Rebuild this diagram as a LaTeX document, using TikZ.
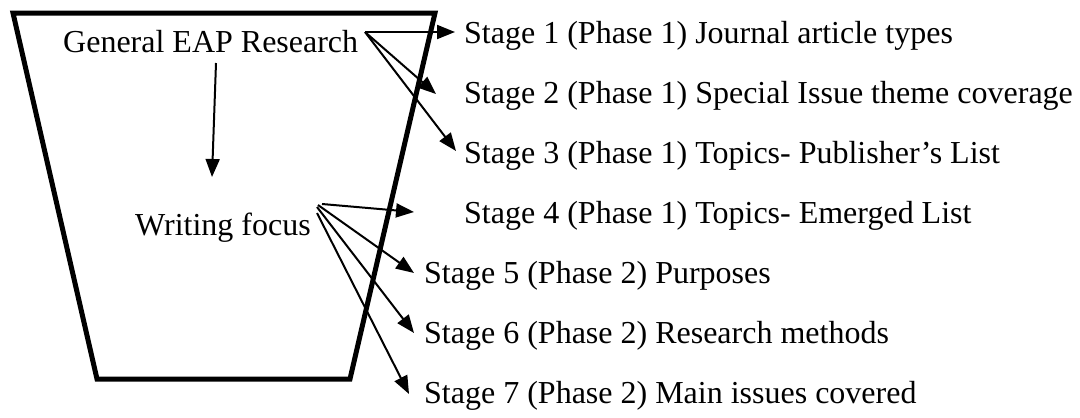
\documentclass[tikz,border=0pt]{standalone}
\usepackage{fontspec}
\setmainfont{Liberation Serif}
\usetikzlibrary{arrows.meta}
\begin{document}
\begin{tikzpicture}[x=1pt,y=-1pt,
  lbl/.style={anchor=base west,inner sep=0pt,font=\fontsize{32}{36}\selectfont},
  frame/.style={line width=5pt,line join=miter},
  arr/.style={line width=2pt,-{Triangle[length=18pt,width=14pt]}}]
\useasboundingbox (0,0) rectangle (1080,418);
\draw[frame] (13,13) -- (435,13) -- (350,379) -- (97,379) -- cycle;
\node[lbl] (gen) at (63,52) {General EAP Research};
\node[lbl] (wri) at (135,235) {Writing focus};
\node[lbl] (s1) at (464,43) {Stage 1 (Phase 1) Journal article types};
\node[lbl] (s2) at (464,103) {Stage 2 (Phase 1) Special Issue theme coverage};
\node[lbl] (s3) at (464,163) {Stage 3 (Phase 1) Topics- Publisher’s List};
\node[lbl] (s4) at (464,223) {Stage 4 (Phase 1) Topics- Emerged List};
\node[lbl] (s5) at (424,283) {Stage 5 (Phase 2) Purposes};
\node[lbl] (s6) at (424,343) {Stage 6 (Phase 2) Research methods};
\node[lbl] (s7) at (424,403) {Stage 7 (Phase 2) Main issues covered};
\coordinate (g0) at (365,32);
\coordinate (t1) at (455,32);
\coordinate (t2) at (436,94);
\coordinate (t3) at (456,151);
\coordinate (v0) at (216,63);
\coordinate (v1) at (212,177);
\coordinate (w4) at (322,204);
\coordinate (w5) at (318,205);
\coordinate (w6) at (317,207);
\coordinate (w7) at (317,213);
\coordinate (t4) at (414,212);
\coordinate (t5) at (414,273);
\coordinate (t6) at (414,333);
\coordinate (t7) at (409,394);
\draw[arr] (g0) -- (t1);
\draw[arr] (g0) -- (t2);
\draw[arr] (g0) -- (t3);
\draw[arr] (v0) -- (v1);
\draw[arr] (w4) -- (t4);
\draw[arr] (w5) -- (t5);
\draw[arr] (w6) -- (t6);
\draw[arr] (w7) -- (t7);
\end{tikzpicture}
\end{document}
